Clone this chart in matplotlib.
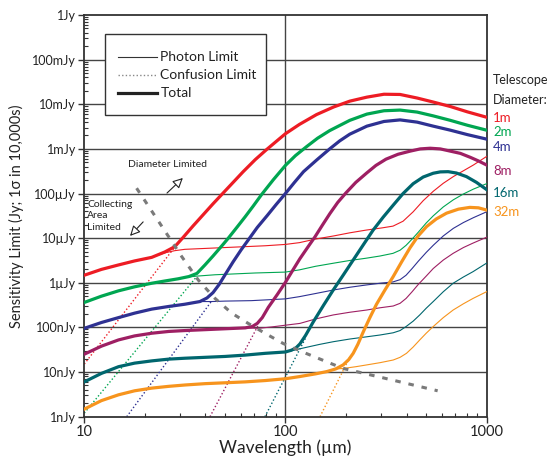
import matplotlib
matplotlib.use('Agg')
import matplotlib.pyplot as plt
import numpy as np
from matplotlib.patches import Rectangle
from matplotlib.lines import Line2D
from matplotlib.ticker import LogLocator, NullFormatter

plt.rcParams['font.family'] = ['Lato', 'DejaVu Sans']

##############################################
#   data                  #
#   lw = log10 wavelength [um]               #
#   lf = log10 sensitivity [Jy]              #
##############################################

names = ['1m', '2m', '4m', '8m', '16m', '32m']
colors = ['#ed1c24', '#00a651', '#2e3192', '#9e1f63', '#00666e', '#f7941d']

# total (thick)
red_tot_lw = [1.00, 1.085, 1.17, 1.25, 1.335, 1.40, 1.45, 1.49, 1.54, 1.59, 1.64, 1.69, 1.74, 1.79,
              1.85, 1.905, 1.955, 2.00, 2.07, 2.155, 2.24, 2.32, 2.405, 2.49, 2.57, 2.655, 2.735,
              2.82, 2.905, 3.00]
red_tot_lf = [-5.83, -5.70, -5.60, -5.51, -5.43, -5.31, -5.19, -4.99, -4.73, -4.48, -4.23, -3.99,
              -3.75, -3.51, -3.24, -3.02, -2.83, -2.66, -2.45, -2.23, -2.06, -1.93, -1.84, -1.775,
              -1.78, -1.86, -1.95, -2.05, -2.17, -2.29]
green_tot_lw = [1.00, 1.085, 1.17, 1.25, 1.335, 1.40, 1.467, 1.52, 1.56, 1.60, 1.64, 1.69, 1.716,
                1.76, 1.80, 1.84, 1.882, 1.94, 2.00, 2.05, 2.105, 2.16, 2.22, 2.32, 2.405, 2.49,
                2.57, 2.655, 2.735, 2.82, 2.905, 3.00]
green_tot_lf = [-6.44, -6.30, -6.18, -6.09, -6.01, -5.96, -5.91, -5.86, -5.79, -5.60, -5.40, -5.14,
                -5.00, -4.75, -4.52, -4.28, -4.02, -3.69, -3.37, -3.15, -2.95, -2.76, -2.59, -2.36,
                -2.22, -2.145, -2.13, -2.175, -2.26, -2.36, -2.47, -2.58]
blue_tot_lw = [1.00, 1.085, 1.17, 1.25, 1.335, 1.42, 1.50, 1.575, 1.61, 1.64, 1.67, 1.70, 1.74,
               1.78, 1.82, 1.86, 1.91, 1.955, 2.00, 2.045, 2.09, 2.155, 2.22, 2.27, 2.32, 2.405,
               2.49, 2.57, 2.655, 2.735, 2.82, 2.905, 3.00]
blue_tot_lf = [-7.02, -6.89, -6.78, -6.68, -6.59, -6.53, -6.48, -6.42, -6.34, -6.22, -6.04, -5.82,
               -5.53, -5.26, -5.01, -4.76, -4.49, -4.24, -4.00, -3.75, -3.51, -3.25, -3.00, -2.82,
               -2.67, -2.49, -2.385, -2.35, -2.40, -2.49, -2.58, -2.68, -2.78]
purple_tot_lw = [1.00, 1.085, 1.17, 1.25, 1.335, 1.42, 1.50, 1.60, 1.70, 1.80, 1.835, 1.86, 1.885,
                 1.915, 1.96, 2.00, 2.035, 2.072, 2.11, 2.147, 2.185, 2.221, 2.26, 2.30, 2.35,
                 2.404, 2.45, 2.50, 2.56, 2.62, 2.67, 2.72, 2.77, 2.82, 2.87, 2.92, 2.96, 3.00]
purple_tot_lf = [-7.60, -7.42, -7.28, -7.19, -7.13, -7.09, -7.07, -7.05, -7.03, -7.01, -6.98, -6.91,
                 -6.78, -6.55, -6.26, -5.99, -5.73, -5.46, -5.21, -4.97, -4.70, -4.45, -4.20, -3.99,
                 -3.75, -3.54, -3.37, -3.23, -3.12, -3.05, -3.00, -2.985, -3.00, -3.05, -3.10, -3.19,
                 -3.27, -3.36]
teal_tot_lw = [1.00, 1.085, 1.17, 1.25, 1.335, 1.42, 1.50, 1.60, 1.70, 1.80, 1.90, 2.00, 2.03, 2.052,
               2.072, 2.10, 2.138, 2.19, 2.238, 2.29, 2.337, 2.39, 2.436, 2.486, 2.536, 2.585,
               2.635, 2.685, 2.735, 2.77, 2.809, 2.85, 2.90, 2.95, 3.00]
teal_tot_lf = [-8.22, -8.03, -7.88, -7.80, -7.75, -7.71, -7.69, -7.67, -7.65, -7.62, -7.58, -7.55,
               -7.51, -7.46, -7.37, -7.18, -6.88, -6.50, -6.16, -5.81, -5.49, -5.13, -4.82, -4.53,
               -4.26, -4.00, -3.78, -3.63, -3.545, -3.515, -3.51, -3.54, -3.62, -3.75, -3.91]
orange_tot_lw = [1.00, 1.085, 1.17, 1.25, 1.335, 1.42, 1.50, 1.60, 1.70, 1.80, 1.90, 2.00, 2.072,
                 2.15, 2.205, 2.25, 2.287, 2.315, 2.337, 2.36, 2.387, 2.42, 2.453, 2.495, 2.536,
                 2.578, 2.619, 2.66, 2.702, 2.75, 2.801, 2.86, 2.917, 2.96, 3.00]
orange_tot_lf = [-8.83, -8.64, -8.51, -8.42, -8.36, -8.32, -8.29, -8.26, -8.24, -8.22, -8.19, -8.15,
                 -8.10, -8.04, -7.99, -7.93, -7.84, -7.72, -7.58, -7.38, -7.10, -6.78, -6.48, -6.16,
                 -5.86, -5.53, -5.22, -4.95, -4.74, -4.57, -4.44, -4.35, -4.31, -4.32, -4.37]

# photon limit (thin)
red_ph_lw = [1.335, 1.40, 1.45, 1.50, 1.60, 1.70, 1.80, 1.90, 2.00, 2.07, 2.15, 2.24, 2.32, 2.40,
             2.48, 2.535, 2.585, 2.635, 2.685, 2.735, 2.785, 2.835, 2.885, 2.935, 3.00]
red_ph_lf = [-5.43, -5.33, -5.28, -5.25, -5.23, -5.21, -5.19, -5.17, -5.14, -5.10, -5.02, -4.95,
             -4.88, -4.82, -4.77, -4.73, -4.62, -4.41, -4.16, -3.95, -3.77, -3.62, -3.49, -3.36, -3.17]
green_ph_lw = [1.467, 1.52, 1.56, 1.65, 1.75, 1.85, 2.00, 2.07, 2.15, 2.24, 2.32, 2.40, 2.47, 2.535,
               2.57, 2.60, 2.63, 2.66, 2.70, 2.735, 2.785, 2.835, 2.885, 2.935, 3.00]
green_ph_lf = [-5.91, -5.87, -5.85, -5.82, -5.80, -5.78, -5.76, -5.71, -5.63, -5.56, -5.50, -5.45,
               -5.40, -5.34, -5.27, -5.16, -5.02, -4.87, -4.66, -4.50, -4.30, -4.14, -4.01, -3.90, -3.78]
blue_ph_lw = [1.575, 1.633, 1.70, 1.83, 2.00, 2.07, 2.15, 2.24, 2.32, 2.40, 2.47, 2.535, 2.57, 2.60,
              2.63, 2.66, 2.70, 2.735, 2.785, 2.835, 2.885, 2.935, 3.00]
blue_ph_lf = [-6.42, -6.42, -6.41, -6.40, -6.36, -6.31, -6.24, -6.16, -6.10, -6.05, -6.01, -5.98,
              -5.93, -5.83, -5.68, -5.52, -5.32, -5.16, -4.95, -4.78, -4.65, -4.54, -4.41]
purple_ph_lw = [1.80, 1.865, 1.93, 2.00, 2.072, 2.15, 2.238, 2.32, 2.404, 2.47, 2.536, 2.57, 2.60,
                2.63, 2.66, 2.70, 2.735, 2.785, 2.834, 2.885, 2.933, 3.00]
purple_ph_lf = [-7.01, -7.02, -6.99, -6.95, -6.91, -6.81, -6.72, -6.66, -6.61, -6.56, -6.52, -6.46,
                -6.35, -6.20, -6.04, -5.85, -5.68, -5.49, -5.34, -5.21, -5.11, -4.98]
teal_ph_lw = [2.00, 2.052, 2.10, 2.17, 2.238, 2.32, 2.404, 2.47, 2.536, 2.57, 2.60, 2.635, 2.668,
              2.70, 2.735, 2.785, 2.834, 2.885, 2.933, 3.00]
teal_ph_lf = [-7.55, -7.50, -7.45, -7.38, -7.32, -7.26, -7.21, -7.17, -7.12, -7.07, -6.98, -6.86,
              -6.72, -6.57, -6.42, -6.20, -6.01, -5.87, -5.75, -5.56]
orange_ph_lw = [2.25, 2.287, 2.35, 2.404, 2.47, 2.536, 2.57, 2.602, 2.635, 2.668, 2.70, 2.735,
                2.785, 2.834, 2.885, 2.933, 3.00]
orange_ph_lf = [-7.93, -7.92, -7.88, -7.84, -7.79, -7.73, -7.67, -7.58, -7.44, -7.28, -7.13, -6.98,
                -6.78, -6.61, -6.47, -6.35, -6.20]

# confusion limit (dotted), end points
red_cf_lw, red_cf_lf = [1.00, 1.45], [-7.82, -5.20]
green_cf_lw, green_cf_lf = [1.00, 1.559], [-8.92, -5.86]
blue_cf_lw, blue_cf_lf = [1.211, 1.633], [-9.00, -6.41]
purple_cf_lw, purple_cf_lf = [1.625, 1.865], [-9.00, -6.95]
teal_cf_lw, teal_cf_lf = [1.898, 2.10], [-9.00, -7.24]
orange_cf_lw, orange_cf_lf = [2.172, 2.321], [-9.00, -7.66]

# diameter limited / collecting area limited boundary
diam_lw = [1.260, 1.376, 1.484, 1.567, 1.650, 1.733, 1.815, 1.898, 1.989, 2.102, 2.287, 2.486, 2.757]
diam_lf = [-3.88, -4.67, -5.41, -5.94, -6.35, -6.68, -6.91, -7.13, -7.36, -7.58, -7.92, -8.13, -8.42]

totals = [(red_tot_lw, red_tot_lf), (green_tot_lw, green_tot_lf), (blue_tot_lw, blue_tot_lf),
          (purple_tot_lw, purple_tot_lf), (teal_tot_lw, teal_tot_lf), (orange_tot_lw, orange_tot_lf)]
photons = [(red_ph_lw, red_ph_lf), (green_ph_lw, green_ph_lf), (blue_ph_lw, blue_ph_lf),
           (purple_ph_lw, purple_ph_lf), (teal_ph_lw, teal_ph_lf), (orange_ph_lw, orange_ph_lf)]
confs = [(red_cf_lw, red_cf_lf), (green_cf_lw, green_cf_lf), (blue_cf_lw, blue_cf_lf),
         (purple_cf_lw, purple_cf_lf), (teal_cf_lw, teal_cf_lf), (orange_cf_lw, orange_cf_lf)]

ytick_vals = [1e-9, 1e-8, 1e-7, 1e-6, 1e-5, 1e-4, 1e-3, 1e-2, 1e-1, 1]
ytick_labels = ['1nJy', '10nJy', '100nJy', '1\u00b5Jy', '10\u00b5Jy', '100\u00b5Jy',
                '1mJy', '10mJy', '100mJy', '1Jy']
xtick_vals = [10, 100, 1000]
xtick_labels = ['10', '100', '1000']


def p10(a):
    return 10 ** np.asarray(a)


##############################################
#   figure                                   #
##############################################

fig = plt.figure(figsize=(5.51, 4.58), dpi=100)
ax = fig.add_axes([0.153, 0.0902, 0.730, 0.877])
ax.set_xscale('log')
ax.set_yscale('log')
ax.set_xlim(10, 1000)
ax.set_ylim(1e-9, 1)

# grid: every decade in y, only 100um in x
for v in ytick_vals[1:-1]:
    ax.axhline(v, color='#444444', lw=1.0, zorder=1)
ax.axvline(100, color='#444444', lw=1.0, zorder=1)

for (lw_, lf_), c in zip(confs, colors):
    ax.plot(p10(lw_), p10(lf_), color=c, lw=1.0, ls=(0, (1, 1.6)), zorder=2)
for (lw_, lf_), c in zip(photons, colors):
    ax.plot(p10(lw_), p10(lf_), color=c, lw=0.8, zorder=3)
for (lw_, lf_), c in zip(totals, colors):
    ax.plot(p10(lw_), p10(lf_), color=c, lw=2.3, zorder=4, solid_joinstyle='round')

ax.plot(p10(diam_lw), p10(diam_lf), color='#7a7a7a', lw=2.2, ls=(0, (1.8, 2.6)), zorder=5)

# axes cosmetics
for s in ax.spines.values():
    s.set_color('#333333')
    s.set_linewidth(1.3)
ax.set_yticks(ytick_vals)
ax.set_yticklabels(ytick_labels, fontsize=9, color='#222222')
ax.set_xticks(xtick_vals)
ax.set_xticklabels(xtick_labels, fontsize=10.5, color='#222222')
ax.yaxis.set_minor_locator(LogLocator(base=10, subs=range(2, 10), numticks=20))
ax.xaxis.set_minor_locator(LogLocator(base=10, subs=range(2, 10), numticks=20))
ax.yaxis.set_minor_formatter(NullFormatter())
ax.xaxis.set_minor_formatter(NullFormatter())
ax.tick_params(which='major', direction='out', length=4, width=1, color='#333333', pad=2)
ax.tick_params(which='minor', direction='in', length=3, width=0.8, color='#333333')

ax.set_xlabel('Wavelength (\u00b5m)', fontsize=12.5, color='#222222')
ax.xaxis.set_label_coords(0.5, -0.056)
ax.set_ylabel('Sensitivity Limit (Jy; 1\u03c3 in 10,000s)', fontsize=10.5, color='#222222')
ax.yaxis.set_label_coords(-0.15, 0.5)

# legend box
ax.add_patch(Rectangle((0.051, 0.751), 0.401, 0.202, transform=ax.transAxes,
                       facecolor='white', edgecolor='#333333', lw=1.0, zorder=6))
leg_rows = [('Photon Limit', '#333333', 0.8, '-'),
            ('Confusion Limit', '#888888', 1.0, (0, (1, 1.6))),
            ('Total', '#222222', 2.3, '-')]
for i, (lab, c, lw, ls) in enumerate(leg_rows):
    yy = 0.895 - i * 0.0445
    ax.add_line(Line2D([0.084, 0.181], [yy, yy], transform=ax.transAxes,
                       color=c, lw=lw, ls=ls, zorder=7))
    ax.text(0.189, yy, lab, transform=ax.transAxes, fontsize=10, color='#222222',
            va='center', ha='left', zorder=7)

# annotations
ax.text(0.208, 0.627, 'Diameter Limited', transform=ax.transAxes, fontsize=7.5,
        color='#222222', ha='center', va='center')
ax.annotate('', xy=(0.250, 0.599), xytext=(0.2006, 0.552), xycoords='axes fraction',
            arrowprops=dict(arrowstyle='-|>,head_length=0.6,head_width=0.3',
                            fc='white', ec='#222222', lw=0.8))
ax.text(0.007, 0.500, 'Collecting\nArea\nLimited', transform=ax.transAxes, fontsize=7.5,
        color='#222222', ha='left', va='center', linespacing=1.35)
ax.annotate('', xy=(0.109, 0.445), xytext=(0.151, 0.490), xycoords='axes fraction',
            arrowprops=dict(arrowstyle='-|>,head_length=0.6,head_width=0.3',
                            fc='white', ec='#222222', lw=0.8))

# telescope labels on the right
fig.text(0.895, 0.825, 'Telescope', fontsize=9, color='#222222', va='center')
fig.text(0.895, 0.782, 'Diameter:', fontsize=9, color='#222222', va='center')
lab_y = [0.742, 0.712, 0.679, 0.627, 0.579, 0.537]
for n, c, yy in zip(names, colors, lab_y):
    fig.text(0.895, yy, n, fontsize=9.5, color=c, va='center')

fig.savefig('out.png', dpi=100)
